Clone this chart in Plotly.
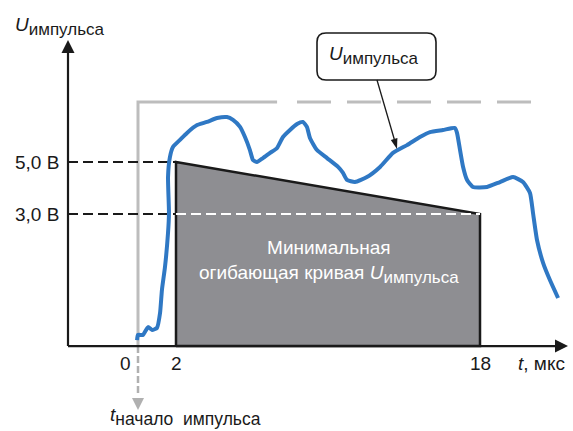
import plotly.graph_objects as go

# ---------------- data (t in мкс, U in В) ----------------
t_curve = [-0.05, 0.0, 0.26, 0.53, 0.74, 1.0, 1.16, 1.26, 1.42, 1.58, 1.63, 1.58, 1.68, 1.84,
           2.21, 2.58, 3.11, 3.63, 4.16, 4.68, 5.0, 5.37, 5.63, 5.89, 6.05, 6.26, 6.58, 6.95,
           7.32, 7.63, 8.0, 8.37, 8.68, 8.89, 9.05, 9.42, 9.95, 10.53, 10.79, 11.0, 11.42,
           12.05, 12.74, 13.42, 14.16, 14.84, 15.37, 16.05, 16.68, 16.79, 16.95, 17.11, 17.32,
           17.63, 18.37, 19.05, 19.74, 20.26, 20.63, 20.79, 21.0, 21.32, 21.68, 22.11]
u_curve = [-1.85, -1.65, -1.65, -1.35, -1.46, -1.38, -0.81, 0.08, 0.96, 2.27, 3.04, 4.42, 5.19, 5.58,
           5.85, 6.12, 6.42, 6.54, 6.69, 6.73, 6.62, 6.35, 5.96, 5.46, 5.08, 5.0, 5.15, 5.35,
           5.54, 5.96, 6.23, 6.46, 6.54, 6.35, 5.92, 5.46, 5.15, 4.81, 4.58, 4.31, 4.23,
           4.42, 4.81, 5.35, 5.65, 5.96, 6.15, 6.23, 6.31, 6.12, 5.46, 4.81, 4.31,
           4.04, 4.04, 4.23, 4.42, 4.23, 3.81, 3.04, 2.0, 1.12, 0.46, -0.23]

envelope_t = [2, 18]          # start / end of minimal envelope
envelope_u = [5.0, 3.0]       # envelope levels, В
ideal_level = 7.31            # ideal pulse level (grey)
ideal_solid_end = 7.32        # grey line solid until here, then dashed
ideal_dash_end = 20.8
baseline = -2.08              # level of time axis

ytick_vals = [5.0, 3.0]
ytick_labels = ["5,0 В", "3,0 В"]
xtick_vals = [0, 2, 18]
xtick_labels = ["0", "2", "18"]

# ---------------- layout helpers (pixel -> data) ----------------
W, H = 573, 431
def X(px):
    return (px - 138) / 19.0
def Y(py):
    return 5.0 - (py - 162) / 26.0

FONT = "Liberation Sans, Arial, sans-serif"
BLACK = "#1a1a1a"
GREY = "#bdbdbd"
BLUE = "#2f78c4"

def usub(sub, subsize=17):
    return f"<i>U</i><sub><span style='font-size:{subsize}px'>{sub}</span></sub>"

fig = go.Figure()

def line(xs, ys, **kw):
    fig.add_trace(go.Scatter(x=xs, y=ys, mode="lines", line=kw, hoverinfo="skip"))

def head(x, y, symbol, size, color, angle=0):
    fig.add_trace(go.Scatter(x=[x], y=[y], mode="markers", hoverinfo="skip",
                             marker=dict(symbol=symbol, size=size, color=color, angle=angle,
                                         line=dict(width=0))))

# grey ideal pulse: vertical + solid horizontal
line([0, 0, ideal_solid_end], [baseline, ideal_level, ideal_level], color=GREY, width=3)
# grey dashed continuation
line([X(297), ideal_dash_end], [ideal_level, ideal_level], color=GREY, width=3, dash="34px,16px")
# grey dashed line below the axis (pulse start)
line([0, 0], [baseline, Y(396)], color="#b0b0b0", width=2.5, dash="7px,3px")
head(0, Y(410), "arrow-down", 12, "#b0b0b0")

# envelope polygon
poly_t = [envelope_t[0], envelope_t[0], envelope_t[1], envelope_t[1], envelope_t[0]]
poly_u = [baseline, envelope_u[0], envelope_u[1], baseline, baseline]
fig.add_trace(go.Scatter(x=poly_t, y=poly_u, mode="lines", fill="toself",
                         fillcolor="#8e8e92", line=dict(color=BLACK, width=2.5),
                         hoverinfo="skip"))

# black dashed level lines from y-axis
for v in ytick_vals:
    line([X(68), envelope_t[0]], [v, v], color=BLACK, width=2, dash="10px,5px")
# white dashed line inside envelope at 3.0
line([envelope_t[0], envelope_t[1]], [ytick_vals[1], ytick_vals[1]],
     color="white", width=2, dash="10px,5px")

# blue pulse curve
line(t_curve, u_curve, color=BLUE, width=4, shape="spline", smoothing=0.5)

# axis lines with arrowheads
line([X(68), X(556)], [baseline, baseline], color=BLACK, width=2.2)
line([X(68), X(68)], [baseline, Y(52)], color=BLACK, width=2.2)
head(X(68), Y(40), "arrow-up", 13, BLACK)
head(X(568), baseline, "arrow-right", 13, BLACK)

# callout arrow
line([X(377), X(394.5)], [Y(80), Y(140)], color=BLACK, width=1.3)
head(X(397), Y(149), "arrow", 11, BLACK, angle=164)

annotations = []
# y tick labels
for v, lab in zip(ytick_vals, ytick_labels):
    annotations.append(dict(x=X(61), y=v, xref="x", yref="y", text=lab, showarrow=False,
                            xanchor="right", yanchor="middle",
                            font=dict(family=FONT, size=19, color=BLACK)))
# x tick labels
x_lab_pos = {0: X(125), 2: 2.05, 18: 18.05}
for v, lab in zip(xtick_vals, xtick_labels):
    annotations.append(dict(x=x_lab_pos[v], y=Y(363), xref="x", yref="y", text=lab,
                            showarrow=False, xanchor="center", yanchor="middle",
                            font=dict(family=FONT, size=19, color=BLACK)))
annotations.append(dict(x=X(516), y=Y(363), xref="x", yref="y", text="<i>t</i>, мкс",
                        showarrow=False, xanchor="left", yanchor="middle",
                        font=dict(family=FONT, size=19, color=BLACK)))
# y axis title
annotations.append(dict(x=X(13), y=Y(26), xref="x", yref="y",
                        text=usub("импульса"),
                        showarrow=False, xanchor="left", yanchor="middle",
                        font=dict(family=FONT, size=19, color=BLACK)))
# pulse start label
annotations.append(dict(x=X(108), y=Y(416), xref="x", yref="y",
                        text="<i>t</i><sub><span style='font-size:17.5px'>начало\u00a0 импульса</span></sub>",
                        showarrow=False, xanchor="left", yanchor="middle",
                        font=dict(family=FONT, size=19, color=BLACK)))
# callout box text
annotations.append(dict(x=X(374), y=Y(55), xref="x", yref="y",
                        text=usub("импульса"),
                        showarrow=False, xanchor="center", yanchor="middle",
                        font=dict(family=FONT, size=19, color=BLACK)))
# envelope text
annotations.append(dict(x=X(329), y=Y(262), xref="x", yref="y",
                        text="Минимальная<br>огибающая кривая " + usub("импульса", subsize=17),
                        showarrow=False, xanchor="center", yanchor="middle", align="center",
                        font=dict(family=FONT, size=19, color="white")))

# rounded callout box
x0, x1, y0, y1 = X(317), X(436), Y(33), Y(80)
rx, ry = 9 / 19.0, 9 / 26.0
box_path = (f"M {x0+rx},{y0} L {x1-rx},{y0} Q {x1},{y0} {x1},{y0-ry} "
            f"L {x1},{y1+ry} Q {x1},{y1} {x1-rx},{y1} L {x0+rx},{y1} "
            f"Q {x0},{y1} {x0},{y1+ry} L {x0},{y0-ry} Q {x0},{y0} {x0+rx},{y0} Z")
shapes = [dict(type="path", path=box_path, xref="x", yref="y",
               line=dict(color=BLACK, width=1.6), fillcolor="white", layer="below")]

fig.update_layout(
    width=W, height=H, autosize=False,
    margin=dict(l=0, r=0, t=0, b=0, pad=0),
    paper_bgcolor="white", plot_bgcolor="white",
    showlegend=False,
    xaxis=dict(range=[X(0), X(W)], visible=False, fixedrange=True),
    yaxis=dict(range=[Y(H), Y(0)], visible=False, fixedrange=True),
    annotations=annotations, shapes=shapes,
)

fig.write_html("out.html", config={"displayModeBar": False},
               post_script="document.body.style.margin='0';document.body.style.overflow='hidden';")
